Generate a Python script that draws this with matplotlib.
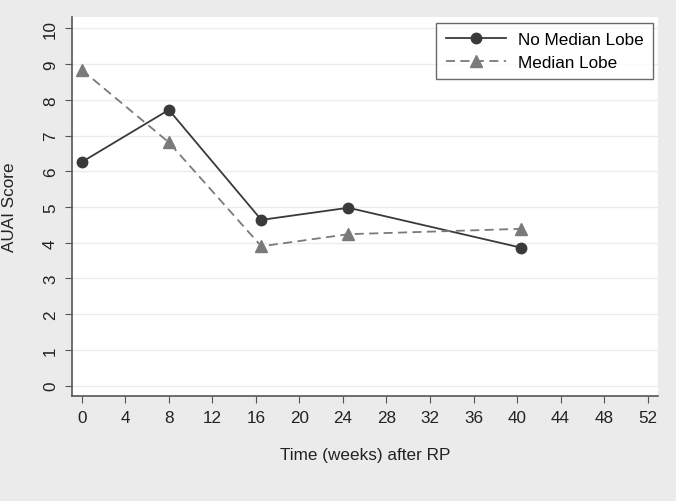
import matplotlib
matplotlib.use("Agg")
import matplotlib.pyplot as plt

weeks = [0, 8, 16.5, 24.5, 40.4]
no_median_lobe = [6.26, 7.72, 4.64, 4.98, 3.86]
median_lobe = [8.84, 6.81, 3.90, 4.24, 4.39]
x_ticks = list(range(0, 53, 4))
y_ticks = list(range(0, 11))

plt.rcParams['font.family'] = ['Liberation Sans', 'DejaVu Sans']
fig = plt.figure(figsize=(6.76, 5.02), dpi=100, facecolor='#ebebeb')
ax = fig.add_axes([72/676, 1-397/502, (658-72)/676, (397-18)/502])
ax.set_facecolor('white')

ax.plot(weeks, no_median_lobe, color='#3a3a3a', lw=1.3, marker='o', ms=7.5,
        label='No Median Lobe')
ax.plot(weeks, median_lobe, color='#7a7a7a', lw=1.3, ls=(0, (5, 3)), marker='^', ms=8,
        label='Median Lobe')

ax.set_xlim(-0.9, 52.95)
ax.set_ylim(-0.29, 10.32)
ax.set_xticks(x_ticks)
ax.set_yticks(y_ticks)
ax.grid(axis='y', color='#ececec', lw=1)
ax.set_axisbelow(True)
for s in ['top', 'right']:
    ax.spines[s].set_visible(False)
for s in ['left', 'bottom']:
    ax.spines[s].set_color('#555555')
    ax.spines[s].set_linewidth(1.2)
ax.tick_params(direction='out', length=5, color='#555555', labelsize=12.3,
               labelcolor='#222222', pad=5)
for lbl in ax.get_yticklabels():
    lbl.set_rotation(90)
    lbl.set_va('center')
ax.set_xlabel('Time (weeks) after RP', fontsize=12.3, color='#222222', labelpad=16)
ax.set_ylabel('AUAI Score', fontsize=12.3, color='#222222')
ax.yaxis.set_label_coords(-0.094, 0.5)

leg = ax.legend(loc='upper right', fontsize=12.3, frameon=True, fancybox=False,
                edgecolor='#444444', handlelength=3.5, handletextpad=0.7,
                borderpad=0.55, labelspacing=0.45, borderaxespad=0,
                bbox_to_anchor=(0.991, 0.985))
leg.get_frame().set_linewidth(1.0)

fig.savefig('out.png', dpi=100, facecolor=fig.get_facecolor())
